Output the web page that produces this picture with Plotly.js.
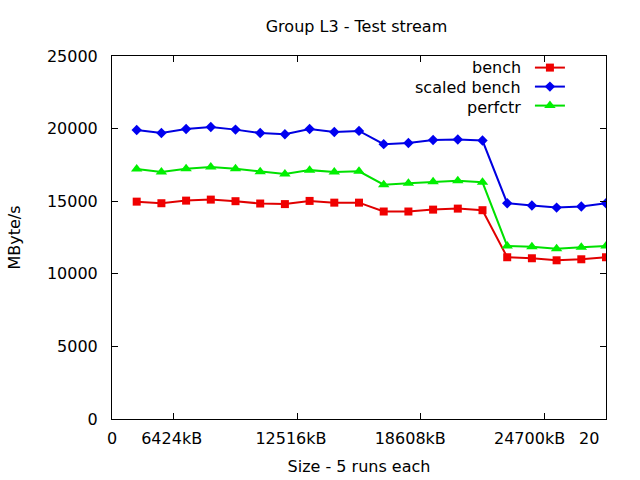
<!DOCTYPE html>
<html>
<head>
<meta charset="utf-8">
<script src="https://cdn.plot.ly/plotly-3.0.1.min.js"></script>
<style>html,body{margin:0;padding:0;background:#fff;}#chart{width:640px;height:480px;}</style>
</head>
<body>
<div id="chart"></div>
<script>
// Data
const runIndex = [1,2,3,4,5,6,7,8,9,10,11,12,13,14,15,16,17,18,19,20];
const bench = [14970,14860,15040,15110,15000,14840,14800,15020,14900,14900,
               14290,14290,14420,14490,14380,11140,11070,10930,11000,11140];
const scaledBench = [19900,19700,19970,20110,19930,19700,19610,19970,19770,19840,
                     18930,19010,19220,19250,19180,14860,14700,14560,14630,14860];
const perfctr = [17210,17010,17230,17350,17230,17030,16870,17140,17010,17060,
                 16140,16230,16340,16410,16300,11920,11870,11730,11820,11920];
const seriesNames = ['bench','scaled bench','perfctr'];
const xTickVals = [0,2.5,7.5,12.5,17.5,20];
const xTickText = ['0','6424kB','12516kB','18608kB','24700kB','20'];

const font = {family:'DejaVu Sans, sans-serif', size:16, color:'#000'};

const traces = [
  {x:runIndex, y:bench, name:seriesNames[0], mode:'lines+markers',
   line:{color:'#e00000', width:2}, marker:{symbol:'square', size:8, color:'#f00000'}},
  {x:runIndex, y:scaledBench, name:seriesNames[1], mode:'lines+markers',
   line:{color:'#0000e0', width:2}, marker:{symbol:'diamond', size:8, color:'#0000f0'}},
  {x:runIndex, y:perfctr, name:seriesNames[2], mode:'lines+markers',
   line:{color:'#00e000', width:2}, marker:{symbol:'triangle-up', size:10, color:'#00f000'}},
  // invisible carrier for the label axis
  {x:[0], y:[0], xaxis:'x2', yaxis:'y', mode:'markers', marker:{opacity:0}, showlegend:false, hoverinfo:'skip'}
];

// legend text drawn right-aligned, left of the samples (gnuplot style)
const legendRowsY = [0.967, 0.912, 0.857];
const annotations = seriesNames.map((n, i) => ({
  text:n, xref:'paper', yref:'paper', x:0.832, y:legendRowsY[i],
  xanchor:'right', yanchor:'middle', showarrow:false, font:font
}));

const layout = {
  width:640, height:480,
  margin:{l:112, r:34, t:56, b:61, autoexpand:false},
  paper_bgcolor:'#fff', plot_bgcolor:'#fff',
  font:font,
  title:{text:'Group L3 - Test stream', x:0.557, xanchor:'center', y:0.944, yanchor:'middle', font:font},
  xaxis:{range:[0,20], tickvals:xTickVals, showticklabels:false,
         showgrid:false, zeroline:false, showline:true, mirror:'ticks', linecolor:'#000', linewidth:1,
         ticks:'inside', ticklen:6, tickcolor:'#000'},
  xaxis2:{overlaying:'x', side:'bottom', anchor:'y', range:[0,20/0.966],
          tickvals:xTickVals, ticktext:xTickText, ticks:'', showline:false,
          showgrid:false, zeroline:false, tickfont:font, ticklabelstandoff:8,
          title:{text:'Size - 5 runs each', font:font, standoff:13}},
  yaxis:{range:[0,25000], dtick:5000, tickformat:'d',
         showgrid:false, zeroline:false, showline:true, mirror:'ticks', linecolor:'#000', linewidth:1,
         ticks:'inside', ticklen:6, tickcolor:'#000', tickfont:font, ticklabelstandoff:10,
         title:{text:'MByte/s', font:font, standoff:22}},
  legend:{x:0.846, y:1.008, xanchor:'left', yanchor:'top', bgcolor:'rgba(0,0,0,0)',
          font:{family:font.family, size:4, color:'rgba(0,0,0,0)'}, tracegroupgap:0, itemwidth:30},
  annotations:annotations,
  showlegend:true
};

Plotly.newPlot('chart', traces, layout, {staticPlot:true, displayModeBar:false});
</script>
</body>
</html>
